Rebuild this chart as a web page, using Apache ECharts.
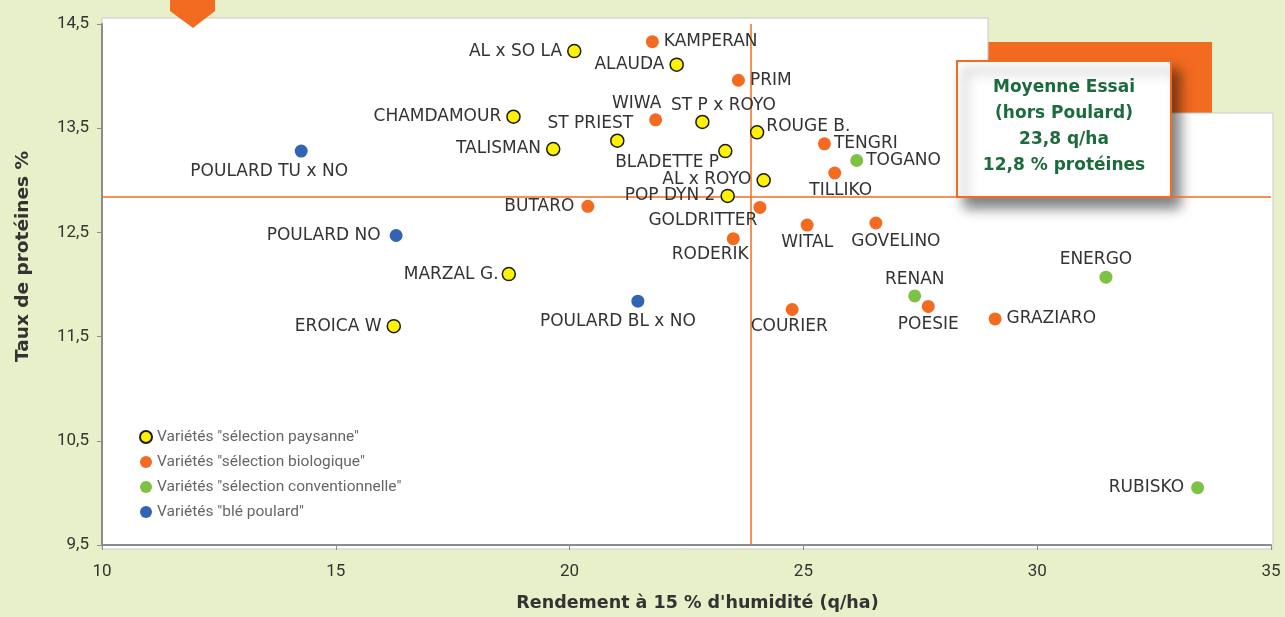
<!DOCTYPE html>
<html>
<head>
<meta charset="utf-8">
<title>Rendement / protéines</title>
<script src="https://cdn.jsdelivr.net/npm/echarts@6/dist/echarts.min.js"></script>
<style>
  html, body { margin: 0; padding: 0; background: #e8f0c9; }
  #chart { width: 1285px; height: 617px; }
</style>
</head>
<body>
<div id="chart"></div>
<script>
// valeurs (rendement q/ha, protéines %)
const paysanneNames = ["AL x SO LA", "ALAUDA", "CHAMDAMOUR", "TALISMAN", "ST PRIEST", "ST P x ROYO", "ROUGE B.", "BLADETTE P", "AL x ROYO", "POP DYN 2", "MARZAL G.", "EROICA W"];
const paysanneX = [20.10, 22.29, 18.80, 19.65, 21.02, 22.84, 24.01, 23.33, 24.15, 23.38, 18.70, 16.24];
const paysanneY = [14.24, 14.11, 13.61, 13.30, 13.38, 13.56, 13.46, 13.28, 13.00, 12.85, 12.10, 11.60];

const bioNames = ["KAMPERAN", "PRIM", "WIWA", "TENGRI", "TILLIKO", "BUTARO", "GOLDRITTER", "WITAL", "GOVELINO", "RODERIK", "COURIER", "POESIE", "GRAZIARO"];
const bioX = [21.77, 23.61, 21.84, 25.45, 25.67, 20.39, 24.07, 25.08, 26.55, 23.50, 24.76, 27.67, 29.10];
const bioY = [14.33, 13.96, 13.58, 13.35, 13.07, 12.75, 12.74, 12.57, 12.59, 12.44, 11.76, 11.79, 11.67];

const convNames = ["TOGANO", "RENAN", "ENERGO", "RUBISKO"];
const convX = [26.14, 27.38, 31.47, 33.43];
const convY = [13.19, 11.89, 12.07, 10.05];

const poulardNames = ["POULARD TU x NO", "POULARD NO", "POULARD BL x NO"];
const poulardX = [14.26, 16.29, 21.46];
const poulardY = [13.28, 12.47, 11.84];

const xTicks = [10, 15, 20, 25, 30, 35];
const yTicks = [9.5, 10.5, 11.5, 12.5, 13.5, 14.5];

// moyenne de l'essai (hors Poulard)
const meanYield = 23.87;
const meanProtein = 12.84;
const meanText = ["Moyenne Essai", "(hors Poulard)", "23,8 q/ha", "12,8 % protéines"];

// placement des étiquettes : [position, dx, dy]
const labelPlacement = {
  "AL x SO LA": ["left", 0, 0], "ALAUDA": ["left", 0, 0], "CHAMDAMOUR": ["left", 0, 0],
  "TALISMAN": ["left", 0, 0], "ST PRIEST": ["top", -27, 4], "ST P x ROYO": ["top", 21, 4],
  "ROUGE B.": ["right", -3, -6], "BLADETTE P": ["left", 6, 11], "AL x ROYO": ["left", 0, -1],
  "POP DYN 2": ["left", 0, 0], "MARZAL G.": ["left", 2, 0], "EROICA W": ["left", 0, 0],
  "KAMPERAN": ["right", 0, 0], "PRIM": ["right", 0, 0], "WIWA": ["top", -19, 4],
  "TENGRI": ["right", -2, 0], "TILLIKO": ["bottom", 6, -2], "BUTARO": ["left", -2, 0],
  "GOLDRITTER": ["left", 9, 13], "WITAL": ["bottom", 0, -3], "GOVELINO": ["bottom", 20, -1],
  "RODERIK": ["bottom", -23, -4], "COURIER": ["bottom", -3, -3], "POESIE": ["bottom", 0, -2],
  "GRAZIARO": ["right", 0, 0], "TOGANO": ["right", -2, 0], "RENAN": ["top", 0, 4],
  "ENERGO": ["top", -10, 2], "RUBISKO": ["left", -2, 0],
  "POULARD TU x NO": ["bottom", -32, 0], "POULARD NO": ["left", -4, 0], "POULARD BL x NO": ["bottom", -20, 0]
};

const labelFont = "'DejaVu Sans', sans-serif";
const uiFont = "Roboto, 'Noto Sans', sans-serif";
const orange = "#f26b21";

function buildPoints(names, xs, ys) {
  return names.map((n, i) => {
    const p = labelPlacement[n] || ["right", 0, 0];
    return {
      name: n,
      value: [xs[i], ys[i]],
      label: { position: p[0], offset: [p[1], p[2]] }
    };
  });
}

function scatterSeries(name, names, xs, ys, itemStyle) {
  return {
    name: name,
    type: "scatter",
    symbolSize: 13,
    itemStyle: Object.assign({ opacity: 1 }, itemStyle),
    label: {
      show: true,
      formatter: "{b}",
      color: "#333",
      fontSize: 17,
      fontFamily: labelFont,
      distance: 5
    },
    emphasis: { disabled: true },
    data: buildPoints(names, xs, ys),
    z: 5
  };
}

const chart = echarts.init(document.getElementById("chart"));

const fmt = v => String(v).replace(".", ",");

chart.setOption({
  backgroundColor: "#e8f0c9",
  animation: false,
  grid: { left: 102, right: 14, top: 24, bottom: 68 },
  xAxis: {
    type: "value",
    min: 10,
    max: 35,
    interval: 5,
    name: "Rendement à 15 % d'humidité (q/ha)",
    nameLocation: "middle",
    nameGap: 49,
    nameTextStyle: { fontSize: 17.5, fontWeight: "bold", color: "#333", fontFamily: labelFont, padding: [0, 0, 0, 22] },
    axisLine: { show: true, lineStyle: { color: "#8c8c8c", width: 2 } },
    axisTick: { show: true, length: 5, lineStyle: { color: "#8c8c8c" }, customValues: xTicks },
    axisLabel: { margin: 18, fontSize: 17, color: "#333", fontFamily: uiFont, customValues: xTicks, formatter: fmt },
    splitLine: { show: false }
  },
  yAxis: {
    type: "value",
    min: 9.5,
    max: 14.5,
    interval: 0.5,
    name: "Taux de protéines %",
    nameLocation: "middle",
    nameGap: 69,
    nameTextStyle: { fontSize: 18.5, fontWeight: "bold", color: "#333", fontFamily: labelFont, padding: [0, 0, 0, 56] },
    axisLine: { show: true, lineStyle: { color: "#8c8c8c", width: 2 } },
    axisTick: { show: true, length: 5, lineStyle: { color: "#8c8c8c" }, customValues: yTicks },
    axisLabel: { margin: 13, fontSize: 17, color: "#333", fontFamily: uiFont, customValues: yTicks, formatter: fmt },
    splitLine: { show: false }
  },
  legend: {
    orient: "vertical",
    left: 139,
    top: 429,
    padding: 0,
    itemWidth: 12,
    itemHeight: 12,
    itemGap: 9,
    icon: "circle",
    selectedMode: false,
    textStyle: { color: "#666", fontSize: 15.5, fontFamily: uiFont },
    data: ["Variétés \"sélection paysanne\"", "Variétés \"sélection biologique\"", "Variétés \"sélection conventionnelle\"", "Variétés \"blé poulard\""]
  },
  graphic: [
    // fond blanc de la zone du graphique (avec décrochement en haut à droite)
    {
      type: "rect", z: -20,
      shape: { x: 988, y: 42, width: 224, height: 72 },
      style: { fill: orange }
    },
    {
      type: "polygon", z: -10,
      shape: { points: [[102, 18], [988, 18], [988, 113], [1273, 113], [1273, 549], [102, 549]] },
      style: { fill: "#fff", stroke: "#c9c9c9", lineWidth: 1 }
    },
    {
      type: "polygon", z: 10,
      shape: { points: [[170, 0], [215, 0], [215, 11], [193, 28], [170, 11]] },
      style: { fill: orange }
    },
    {
      type: "group", z: 50,
      children: [
        {
          type: "rect",
          shape: { x: 957, y: 61, width: 214, height: 136 },
          style: { fill: "#fff", stroke: orange, lineWidth: 2, shadowBlur: 12, shadowOffsetX: 8, shadowOffsetY: 10, shadowColor: "rgba(0,0,0,0.5)" }
        },
        {
          type: "text",
          style: {
            x: 1064, y: 127,
            text: meanText.join("\n"),
            align: "center",
            verticalAlign: "middle",
            fill: "#1c6b3d",
            font: "bold 17px " + labelFont,
            lineHeight: 26
          }
        }
      ]
    }
  ],
  series: [
    scatterSeries("Variétés \"sélection paysanne\"", paysanneNames, paysanneX, paysanneY,
      { color: "#fff200", borderColor: "#1a1a1a", borderWidth: 1.5 }),
    scatterSeries("Variétés \"sélection biologique\"", bioNames, bioX, bioY, { color: orange }),
    scatterSeries("Variétés \"sélection conventionnelle\"", convNames, convX, convY, { color: "#7dc242" }),
    scatterSeries("Variétés \"blé poulard\"", poulardNames, poulardX, poulardY, { color: "#3264b4" }),
    {
      name: "moyenne",
      type: "scatter",
      data: [],
      z: 3,
      markLine: {
        silent: true,
        symbol: "none",
        label: { show: false },
        lineStyle: { color: orange, width: 1.5, type: "solid" },
        data: [{ xAxis: meanYield }, { yAxis: meanProtein }]
      }
    }
  ]
});
</script>
</body>
</html>
